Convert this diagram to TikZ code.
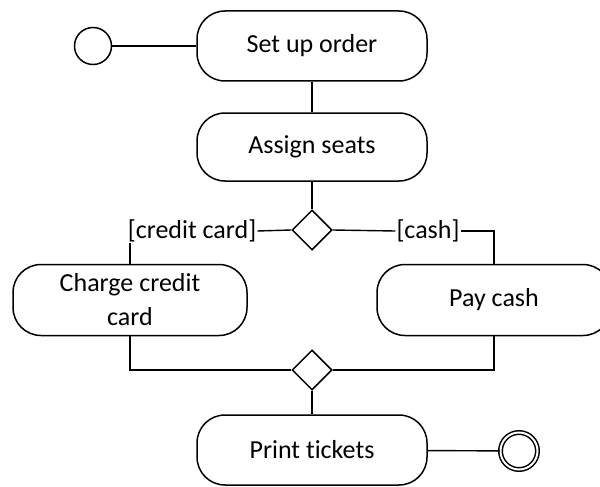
\documentclass[tikz,border=0pt]{standalone}
\usepackage{fontspec}
\setmainfont{Carlito}[Ligatures=NoCommon]
\usetikzlibrary{shapes.geometric}

\tikzset{
  activity/.style={draw, line width=1.5pt, rectangle, rounded corners=28pt,
    minimum width=230pt, minimum height=70pt, align=center,
    font=\fontsize{26}{34}\selectfont, inner sep=2pt},
  decision/.style={draw, line width=1.5pt, diamond, minimum width=40pt,
    minimum height=40pt, inner sep=0pt},
  guard/.style={font=\fontsize{26}{30}\selectfont, inner sep=1pt},
  flow/.style={line width=1.4pt},
  startnode/.style={draw, line width=1.5pt, circle, minimum size=37pt, inner sep=0pt},
  endnode/.style={draw, line width=1.5pt, circle, minimum size=37pt, inner sep=0pt,
    double, double distance=2pt},
}

\begin{document}
\begin{tikzpicture}[x=1pt, y=-1pt]
  \useasboundingbox (0,0) rectangle (600,487);

  \node[startnode] (start) at (93,46) {};
  \node[activity] (setup) at (312,46) {Set up order};
  \node[activity, minimum height=68pt] (assign) at (312,147) {Assign seats};
  \node[decision] (split) at (312,230) {};
  \node[guard] (lcredit) at (192,231) {[credit card]};
  \node[guard] (lcash) at (428,231) {[cash]};
  \node[activity, minimum width=234pt, minimum height=71pt] (charge) at (130,300) {Charge credit\\card};
  \node[activity, minimum width=234pt, minimum height=71pt] (pay) at (494,300) {Pay cash};
  \node[decision] (join) at (312,370) {};
  \node[activity] (print) at (312,450) {Print tickets};
  \node[endnode] (final) at (519,451) {};

  \draw[flow] (start) -- (setup);
  \draw[flow] (setup) -- (assign);
  \draw[flow] (assign) -- (split);
  \draw[flow] (split.west) -- (lcredit.east);
  \draw[flow] (charge.north) -- (charge.north |- lcredit.south);
  \draw[flow] (split.east) -- (lcash.west);
  \draw[flow] (lcash.east) -| (pay.north);
  \draw[flow] (charge.south) |- (join.west);
  \draw[flow] (pay.south) |- (join.east);
  \draw[flow] (join) -- (print);
  \draw[flow] (print) -- (final);
\end{tikzpicture}
\end{document}
